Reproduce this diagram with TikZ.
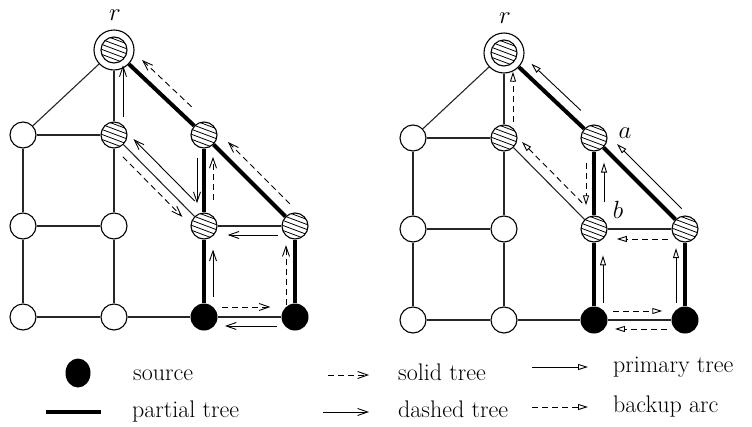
\documentclass[tikz,border=0pt]{standalone}
\usepackage{fontspec}
\usetikzlibrary{arrows.meta,calc,shapes.geometric}
\tikzset{
  plainv/.style={circle,draw=black,line width=1.1pt,minimum size=26pt,inner sep=0pt,fill=white},
  hatchv/.style={plainv, path picture={
     \foreach \i in {-24,-19,...,26}
       \draw[line width=0.8pt] ([xshift=-16pt,yshift={(\i+6)*1pt}]path picture bounding box.center) -- ([xshift=16pt,yshift={(\i-6)*1pt}]path picture bounding box.center);}},
  srcv/.style={circle,fill=black,minimum size=27pt,inner sep=0pt},
  rootring/.style={circle,draw=black,line width=1.1pt,minimum size=40pt,inner sep=0pt,fill=white},
  thinedge/.style={line width=1.1pt,black!85},
  thickedge/.style={line width=4pt},
  vtip/.style={-{Straight Barb[length=10pt,width=7pt]}},
  ttip/.style={-{Triangle[open,length=10pt,width=6pt]}},
  arr/.style={line width=0.9pt},
  dsh/.style={dash pattern=on 6pt off 4pt},
  lbl/.style={font=\fontsize{24}{28}\selectfont,inner sep=0pt},
}
% parallel arrow: style, from, to, frac1, frac2, offset (positive = right of travel)
\newcommand\parr[6]{\draw[#1] ($(#2)!#4!(#3)!#6!-90:(#3)$) -- ($(#2)!#5!(#3)!#6!-90:(#3)$);}
\newcommand\drawgraph[3]{%
\begin{scope}[shift={(#2,#3)}]
 \node[rootring] (#1r) at (114,50) {};
 \node[hatchv] (#1ri) at (114,50) {};
 \node[plainv] (#1n1) at (23,135) {};
 \node[hatchv] (#1n2) at (114,135) {};
 \node[hatchv] (#1a) at (204,135) {};
 \node[plainv] (#1n3) at (23,226) {};
 \node[plainv] (#1n4) at (114,226) {};
 \node[hatchv] (#1b) at (204,226) {};
 \node[hatchv] (#1c) at (295,226) {};
 \node[plainv] (#1n5) at (23,317) {};
 \node[plainv] (#1n6) at (114,317) {};
 \node[srcv] (#1s1) at (204,317) {};
 \node[srcv] (#1s2) at (295,317) {};
 \draw[thinedge] (#1r) -- (#1n1);
 \draw[thinedge] (#1r) -- (#1n2);
 \draw[thinedge] (#1n1) -- (#1n2);
 \draw[thinedge] (#1n1) -- (#1n3);
 \draw[thinedge] (#1n3) -- (#1n4);
 \draw[thinedge] (#1n3) -- (#1n5);
 \draw[thinedge] (#1n5) -- (#1n6);
 \draw[thinedge] (#1n2) -- (#1n4);
 \draw[thinedge] (#1n4) -- (#1n6);
 \draw[thinedge] (#1n6) -- (#1s1);
 \draw[thinedge] (#1n2) -- (#1b);
 \draw[thinedge] (#1b) -- (#1c);
 \draw[thinedge] (#1s1) -- (#1s2);
 \draw[thickedge] (#1r) -- (#1a);
 \draw[thickedge] (#1a) -- (#1c);
 \draw[thickedge] (#1a) -- (#1b);
 \draw[thickedge] (#1b) -- (#1s1);
 \draw[thickedge] (#1c) -- (#1s2);
 \node[lbl] (#1rl) at (115,15) {$r$};
\end{scope}}
\begin{document}
\begin{tikzpicture}[x=1pt,y=-1pt]
\useasboundingbox (0,0) rectangle (752,426);
\drawgraph{L}{0}{0}
\drawgraph{R}{390}{3}
% left graph arrows
\parr{arr,vtip}{Ln2}{Lr}{0.21}{0.82}{9pt}
\parr{arr,dsh,vtip}{La}{Lr}{0.23}{0.78}{12pt}
\parr{arr,dsh,vtip}{Lc}{La}{0.15}{0.83}{12pt}
\parr{arr,vtip}{Lb}{Ln2}{0.19}{0.87}{11pt}
\parr{arr,dsh,vtip}{Ln2}{Lb}{0.17}{0.83}{9pt}
\parr{arr,vtip}{La}{Lb}{0.25}{0.75}{7pt}
\parr{arr,dsh,vtip}{Lb}{La}{0.29}{0.76}{9pt}
\parr{arr,vtip}{Lc}{Lb}{0.19}{0.74}{-9pt}
\parr{arr,vtip}{Ls1}{Lb}{0.22}{0.74}{9pt}
\parr{arr,dsh,vtip}{Ls2}{Lc}{0.13}{0.79}{-9pt}
\parr{arr,dsh,vtip}{Ls1}{Ls2}{0.2}{0.73}{-10pt}
\parr{arr,vtip}{Ls2}{Ls1}{0.2}{0.77}{-9pt}
% right graph arrows
\parr{arr,dsh,ttip}{Rn2}{Rr}{0.19}{0.78}{9pt}
\parr{arr,ttip}{Ra}{Rr}{0.23}{0.78}{11pt}
\parr{arr,ttip}{Rc}{Ra}{0.13}{0.84}{12pt}
\parr{arr,dsh,ttip}{Rb}{Rn2}{0.21}{0.88}{10pt}
\parr{arr,dsh,ttip}{Ra}{Rb}{0.27}{0.74}{8pt}
\parr{arr,ttip}{Rb}{Ra}{0.3}{0.73}{10pt}
\parr{arr,dsh,ttip}{Rc}{Rb}{0.19}{0.75}{-10pt}
\parr{arr,ttip}{Rs1}{Rb}{0.19}{0.71}{9pt}
\parr{arr,ttip}{Rs2}{Rc}{0.19}{0.79}{-9pt}
\parr{arr,dsh,ttip}{Rs1}{Rs2}{0.21}{0.75}{-9pt}
\parr{arr,dsh,ttip}{Rs2}{Rs1}{0.2}{0.77}{-9pt}
\node[lbl] (Ralab) at (625,133) {$a$};
\node[lbl] (Rblab) at (618,210) {$b$};
% legend
\node[ellipse,fill=black,minimum width=25pt,minimum height=29pt,inner sep=0pt] (lgsrc) at (78,373) {};
\node[lbl,anchor=base west] (lgsrct) at (133,380) {source};
\coordinate (lgp1) at (46,412); \coordinate (lgp2) at (101,412);
\draw[thickedge] (lgp1) -- (lgp2);
\node[lbl,anchor=base west] (lgptt) at (132,417) {partial tree};
\coordinate (lgs1) at (328,375); \coordinate (lgs2) at (369,375);
\draw[arr,dsh,vtip] (lgs1) -- (lgs2);
\node[lbl,anchor=base west] (lgstt) at (398,380) {solid tree};
\coordinate (lgd1) at (323,412); \coordinate (lgd2) at (369,412);
\draw[arr,vtip] (lgd1) -- (lgd2);
\node[lbl,anchor=base west] (lgdtt) at (398,417) {dashed tree};
\coordinate (lgq1) at (532,367); \coordinate (lgq2) at (588,367);
\draw[arr,ttip] (lgq1) -- (lgq2);
\node[lbl,anchor=base west] (lgqtt) at (613,372) {primary tree};
\coordinate (lgb1) at (532,407); \coordinate (lgb2) at (588,407);
\draw[arr,dsh,ttip] (lgb1) -- (lgb2);
\node[lbl,anchor=base west] (lgbtt) at (613,412) {backup arc};
\end{tikzpicture}
\end{document}
